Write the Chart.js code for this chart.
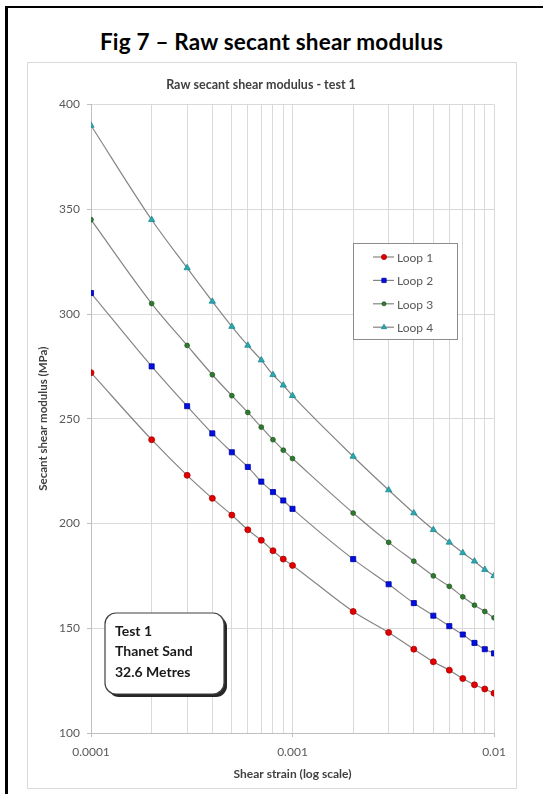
<!DOCTYPE html>
<html>
<head>
<meta charset="utf-8">
<script src="https://cdn.jsdelivr.net/npm/chart.js@4.4.0/dist/chart.umd.min.js"></script>
<style>
  body { margin: 0; background: #fff; width: 543px; height: 794px; overflow: hidden; position: relative; font-family: Lato, 'Open Sans', sans-serif; }
  #frame { position: absolute; left: 5px; top: 6px; width: 700px; height: 900px; border-left: 3px solid #000; border-top: 2px solid #000; }
  #heading { position: absolute; left: 0; top: 28px; width: 543px; text-align: center; font: bold 22.5px Lato, sans-serif; letter-spacing: 0.2px; color: #000; }
  #box { position: absolute; left: 27px; top: 62px; width: 490px; height: 727px; border: 1px solid #d9d9d9; box-sizing: border-box; }
  canvas { display: block; }
</style>
</head>
<body>
<div id="frame"></div>
<div id="heading">Fig 7 – Raw secant shear modulus</div>
<div id="box"><canvas id="chart" width="488" height="725"></canvas></div>
<script>
// shear strain (log scale)
const strain = [0.0001, 0.0002, 0.0003, 0.0004, 0.0005, 0.0006, 0.0007, 0.0008, 0.0009, 0.001,
  0.002, 0.003, 0.004, 0.005, 0.006, 0.007, 0.008, 0.009, 0.01];

// secant shear modulus (MPa) per loop
const loop1 = [272, 240, 223, 212, 204, 197, 192, 187, 183, 180, 158, 148, 140, 134, 130, 126, 123, 121, 119];
const loop2 = [310, 275, 256, 243, 234, 227, 220, 215, 211, 207, 183, 171, 162, 156, 151, 147, 143, 140, 138];
const loop3 = [345, 305, 285, 271, 261, 253, 246, 240, 235, 231, 205, 191, 182, 175, 170, 165, 161, 158, 155];
const loop4 = [390, 345, 322, 306, 294, 285, 278, 271, 266, 261, 232, 216, 205, 197, 191, 186, 182, 178, 175];

const seriesNames = ['Loop 1', 'Loop 2', 'Loop 3', 'Loop 4'];
const xGridValues = [0.0001, 0.0002, 0.0003, 0.0004, 0.0005, 0.0006, 0.0007, 0.0008, 0.0009,
  0.001, 0.002, 0.003, 0.004, 0.005, 0.006, 0.007, 0.008, 0.009, 0.01];
const xTickLabels = ['0.0001', '0.001', '0.01'];
const yTicks = [100, 150, 200, 250, 300, 350, 400];

const noteLines = ['Test 1', 'Thanet Sand', '32.6 Metres'];

const markers = [
  { style: 'circle', radius: 3, fill: '#e00000', border: '#b00000' },
  { style: 'rect', radius: 3.6, fill: '#0010e0', border: '#0000a0' },
  { style: 'circle', radius: 2.4, fill: '#2f7a2f', border: '#1f5a1f' },
  { style: 'triangle', radius: 3.6, fill: '#2aa8b0', border: '#1a8890' }
];

const loops = [loop1, loop2, loop3, loop4];
const datasets = loops.map((vals, i) => ({
  label: seriesNames[i],
  data: vals.map((v, k) => ({ x: strain[k], y: v })),
  showLine: true,
  borderColor: '#858585',
  borderWidth: 1.2,
  cubicInterpolationMode: 'monotone',
  pointStyle: markers[i].style,
  pointRadius: markers[i].radius,
  pointBackgroundColor: markers[i].fill,
  pointBorderColor: markers[i].border,
  pointBorderWidth: 0.8
}));

const greyText = '#595959';
const isMajor = v => xTickLabels.some(t => Math.abs(parseFloat(t) - v) < v * 1e-6);

// legend box and note box drawn inside the plot
const overlays = {
  id: 'overlays',
  afterDraw(chart) {
    const ctx = chart.ctx;
    ctx.save();
    // legend
    ctx.fillStyle = '#fff';
    ctx.fillRect(325.5, 180.5, 104, 96);
    ctx.strokeStyle = '#8c8c8c';
    ctx.lineWidth = 1;
    ctx.strokeRect(325.5, 180.5, 104, 96);
    ctx.font = '12px Lato, sans-serif';
    ctx.textBaseline = 'middle';
    chart.data.datasets.forEach((ds, i) => {
      const y = 194 + i * 23.4;
      ctx.strokeStyle = ds.borderColor;
      ctx.lineWidth = 1.2;
      ctx.beginPath();
      ctx.moveTo(345, y);
      ctx.lineTo(366, y);
      ctx.stroke();
      ctx.fillStyle = ds.pointBackgroundColor;
      ctx.strokeStyle = ds.pointBorderColor;
      ctx.lineWidth = 0.8;
      Chart.helpers.drawPoint(ctx, { pointStyle: ds.pointStyle, radius: ds.pointRadius * 0.85, rotation: 0, borderWidth: 0.8 }, 356, y);
      ctx.fillStyle = greyText;
      ctx.fillText(ds.label, 369, y + 1);
    });

    // note box with shadow
    const bx = 77, by = 550, bw = 119, bh = 81, r = 11;
    const rr = (x, y, w, h) => {
      ctx.beginPath();
      ctx.moveTo(x + r, y);
      ctx.arcTo(x + w, y, x + w, y + h, r);
      ctx.arcTo(x + w, y + h, x, y + h, r);
      ctx.arcTo(x, y + h, x, y, r);
      ctx.arcTo(x, y, x + w, y, r);
      ctx.closePath();
    };
    ctx.fillStyle = '#262626';
    rr(bx + 3, by + 3, bw, bh);
    ctx.fill();
    ctx.fillStyle = '#fff';
    rr(bx, by, bw, bh);
    ctx.fill();
    ctx.strokeStyle = '#404040';
    ctx.lineWidth = 1.2;
    ctx.stroke();
    ctx.fillStyle = '#1a1a1a';
    ctx.font = 'bold 14px Lato, sans-serif';
    ctx.textBaseline = 'middle';
    noteLines.forEach((t, i) => ctx.fillText(t, 87, 568 + i * 20.5));
    ctx.restore();
  }
};

new Chart(document.getElementById('chart'), {
  type: 'scatter',
  data: { datasets },
  plugins: [overlays],
  options: {
    responsive: false,
    animation: false,
    devicePixelRatio: 1,
    layout: { padding: { left: 0, right: 22, top: 0, bottom: 0 } },
    plugins: {
      legend: { display: false },
      tooltip: { enabled: false },
      title: {
        display: true,
        text: 'Raw secant shear modulus - test 1',
        color: '#404040',
        font: { family: 'Lato', size: 12.5, weight: 'bold' },
        padding: { top: 14, bottom: 12.5 }
      }
    },
    scales: {
      x: {
        type: 'logarithmic',
        min: 0.0001,
        max: 0.01,
        afterBuildTicks: s => { s.ticks = xGridValues.map(v => ({ value: v })); },
        afterFit: s => { s.height = 55; },
        ticks: {
          autoSkip: false,
          maxRotation: 0,
          padding: 8,
          color: greyText,
          font: { family: 'Lato', size: 12 },
          callback: v => xTickLabels.find(t => Math.abs(parseFloat(t) - v) < v * 1e-6) || ''
        },
        grid: {
          color: '#d9d9d9',
          tickLength: 4,
          tickColor: c => (isMajor(c.tick.value) ? '#bfbfbf' : 'rgba(0,0,0,0)')
        },
        border: { color: '#bfbfbf' },
        title: {
          display: true,
          text: 'Shear strain (log scale)',
          color: '#404040',
          font: { family: 'Lato', size: 12, weight: 'bold' },
          padding: { top: 0, bottom: 7 }
        }
      },
      y: {
        min: 100,
        max: 400,
        afterBuildTicks: s => { s.ticks = yTicks.map(v => ({ value: v })); },
        afterFit: s => { s.width = 63; },
        ticks: {
          padding: 7,
          color: greyText,
          font: { family: 'Lato', size: 12 }
        },
        grid: { color: '#d9d9d9', tickLength: 4, tickColor: '#bfbfbf' },
        border: { color: '#bfbfbf' },
        title: {
          display: true,
          text: 'Secant shear modulus (MPa)',
          color: '#404040',
          font: { family: 'Lato', size: 11.5, weight: 'bold' },
          padding: { top: 8, bottom: 0 }
        }
      }
    }
  }
});
</script>
</body>
</html>
